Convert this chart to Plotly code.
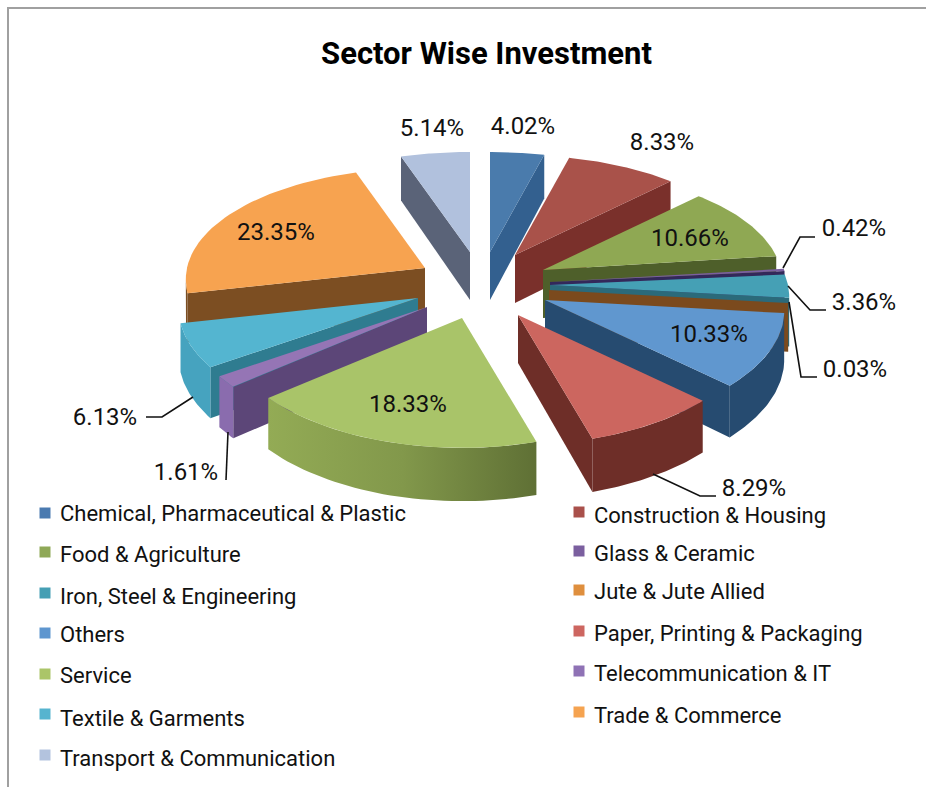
import numpy as np
import plotly.graph_objects as go

# chart data
sectors = ["Chemical, Pharmaceutical & Plastic", "Construction & Housing", "Food & Agriculture",
           "Glass & Ceramic", "Iron, Steel & Engineering", "Jute & Jute Allied", "Others",
           "Paper, Printing & Packaging", "Service", "Telecommunication & IT",
           "Textile & Garments", "Trade & Commerce", "Transport & Communication"]
shares = [4.02, 8.33, 10.66, 0.42, 3.36, 0.03, 10.33, 8.29, 18.33, 1.61, 6.13, 23.35, 5.14]

# slice colours: top face, radial wall, outer wall, legend swatch
top_colors = ["#4A7BAC", "#A9524A", "#8FA853", "#7A5FA0", "#45A0B5", "#DF8F3E", "#6097CF",
              "#CC665F", "#A9C469", "#9575B5", "#54B5D0", "#F7A350", "#B1C1DD"]
wall_colors = ["#33608F", "#7A302B", "#4E5F2A", "#33285A", "#2B6A7A", "#7B4A1D", "#264B70",
               "#6E2E28", "#6B7E3C", "#5C4678", "#2F7C90", "#7C4E22", "#5A6378"]
rim_colors = ["#33608F", "#7A302B", "#4E5F2A", "#33285A", "#2B6A7A", "#7B4A1D", "#264B70",
              "#6E2E28", "#6B7E3C", "#8A6CAE", "#46A3BF", "#7C4E22", "#5A6378"]
legend_colors = ["#4A7AB0", "#A9504B", "#8FA857", "#7B5F9F", "#459FB4", "#DF8F3E", "#5E96CF",
                 "#CD6660", "#ABC569", "#8F72B5", "#56B4CF", "#F5A350", "#B3C3DE"]

# where each exploded slice has its tip, in page pixels
tip_x = [490, 515, 543, 550, 550, 549, 545, 518, 462, 427, 418, 425, 470]
tip_y = [252, 255, 270, 282, 285, 290, 300, 315, 318, 307, 298, 268, 252]

# back to front
draw_order = [12, 0, 11, 1, 2, 3, 4, 5, 6, 7, 10, 9, 8]

RX, RY, PERSP_X, PERSP_Y, DEPTH = 238, 113, 0.1, 0.13, 48
FONT = "Roboto"


def project(i, angle):
    # angle in radians clockwise from the top of the pie
    gx, gy = np.sin(angle), np.cos(angle)
    sx = 1 / (1 + PERSP_X * gy)
    sy = 1 / (1 + PERSP_Y * gy)
    return tip_x[i] + RX * gx * sx, tip_y[i] - RY * gy * sy, DEPTH * sx


def polygon(xs, ys, color, **kw):
    return go.Scatter(x=list(xs), y=list(ys), mode="lines", fill="toself", fillcolor=color,
                      line=dict(width=0), hoverinfo="skip", showlegend=False, **kw)


def wall(a, b, color):
    # a and b are (x, y, depth) points, quad going down from the edge a-b
    return polygon([a[0], b[0], b[0], a[0], a[0]],
                   [a[1], b[1], b[1] + b[2], a[1] + a[2], a[1]], color)


fig = go.Figure()

ends = np.cumsum(shares) / sum(shares) * 2 * np.pi
starts = np.concatenate([[0], ends[:-1]])

for i in draw_order:
    ang = np.linspace(starts[i], ends[i], 40)
    xa, ya, da = project(i, ang)
    tip = (tip_x[i], tip_y[i], DEPTH)
    first = (xa[0], ya[0], da[0])
    last = (xa[-1], ya[-1], da[-1])

    # only walls that face the viewer get drawn
    if first[0] < tip[0]:
        fig.add_trace(wall(tip, first, wall_colors[i]))
    if tip[0] < last[0]:
        fig.add_trace(wall(last, tip, wall_colors[i]))

    vis = np.where(np.diff(xa) < 0)[0]
    if len(vis):
        idx = np.arange(vis[0], vis[-1] + 2)
        rx = np.concatenate([xa[idx], xa[idx][::-1], xa[idx][:1]])
        ry = np.concatenate([ya[idx], (ya[idx] + da[idx])[::-1], ya[idx][:1]])
        if sectors[i] == "Service":
            fig.add_trace(polygon(rx, ry, None, fillgradient=dict(
                type="horizontal", colorscale=[[0, "#93AB55"], [0.5, "#82984B"], [1, "#5F7035"]])))
        else:
            fig.add_trace(polygon(rx, ry, rim_colors[i]))

    fig.add_trace(polygon(np.r_[tip[0], xa, tip[0]], np.r_[tip[1], ya, tip[1]], top_colors[i]))

# percentage labels
label_x = [523, 662, 690, 854, 864, 855, 709, 754, 408, 186, 105, 276, 432]
label_y = [128, 144, 240, 230, 304, 371, 336, 490, 406, 474, 419, 234, 130]
fig.add_trace(go.Scatter(x=label_x, y=label_y, mode="text", text=[f"{v:.2f}%" for v in shares],
                         textposition="middle center", textfont=dict(family=FONT, size=24, color="#111"),
                         hoverinfo="skip", showlegend=False))

# leader lines
leaders = [
    "M783,268 L800,237 L815,237",
    "M788,286 L810,310 L826,310",
    "M789,302 L801,377 L817,377",
    "M653,474 L700,496 L716,496",
    "M193,397 L162,417 L146,417",
    "M228,432 L226,480",
]
shapes = [dict(type="path", path=p, xref="x", yref="y", line=dict(color="#111", width=1.6)) for p in leaders]

# frame of the original chart
shapes.append(dict(type="path", path="M8,787 L8,8 L926,8", xref="x", yref="y",
                   line=dict(color="#A0A0A0", width=2)))

# legend, two columns with slightly uneven rows
swatch_x = [45, 579, 45, 579, 45, 579, 45, 579, 45, 579, 45, 579, 45]
swatch_y = [513, 512, 552, 551, 593, 590, 633, 631, 674, 671, 714, 712, 755]
legend_text_x = [60, 594, 60, 594, 60, 594, 60, 594, 60, 594, 60, 594, 60]
legend_text_y = [515, 517, 556, 555, 598, 593, 636, 635, 677, 675, 720, 717, 760]
fig.add_trace(go.Scatter(x=swatch_x, y=swatch_y, mode="markers",
                         marker=dict(symbol="square", size=11, color=legend_colors),
                         hoverinfo="skip", showlegend=False))
fig.add_trace(go.Scatter(x=legend_text_x, y=legend_text_y, mode="text", text=sectors,
                         textposition="middle right", textfont=dict(family=FONT, size=22, color="#111"),
                         hoverinfo="skip", showlegend=False))

fig.update_layout(
    width=926,
    height=787,
    margin=dict(l=0, r=0, t=0, b=0),
    paper_bgcolor="white",
    plot_bgcolor="white",
    shapes=shapes,
    title=dict(text="<b>Sector Wise Investment</b>", x=486.5 / 926, xanchor="center", y=1 - 53 / 787,
               yanchor="middle", font=dict(family=FONT, size=31, color="#000")),
    xaxis=dict(range=[0, 926], visible=False, fixedrange=True),
    yaxis=dict(range=[787, 0], visible=False, fixedrange=True),
)

fig.write_html("out.html", config={"displayModeBar": False},
               post_script="document.body.style.margin='0';document.body.style.overflow='hidden';")
